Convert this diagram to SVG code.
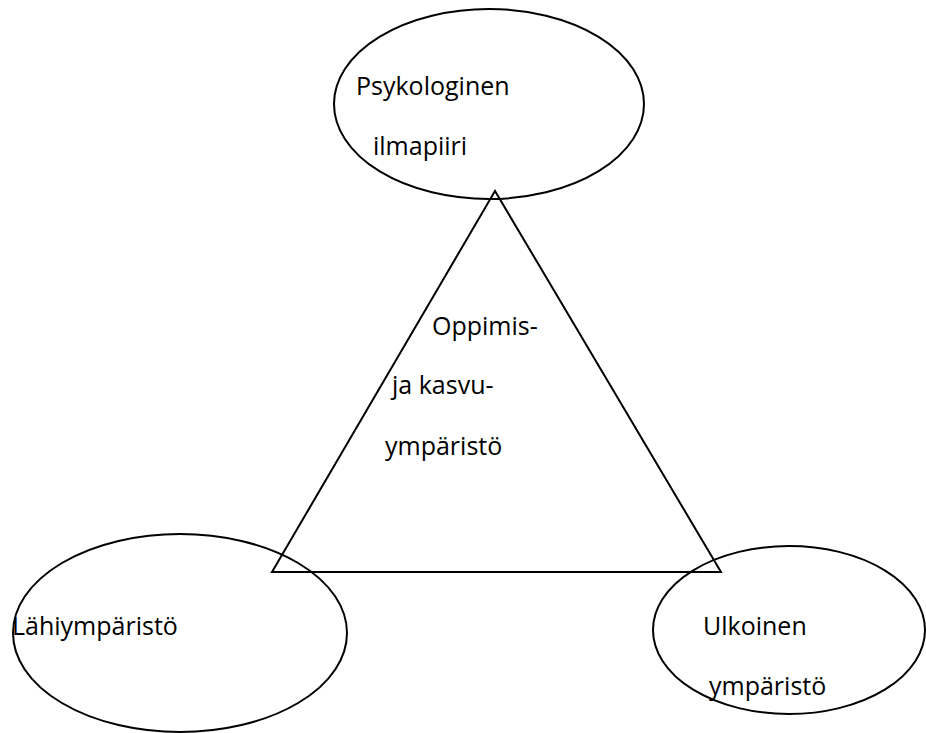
<svg xmlns="http://www.w3.org/2000/svg" width="926" height="733" viewBox="0 0 926 733">
<style>
.shape{fill:none;stroke:#000;stroke-width:2}
.lbl{font-family:"Open Sans","Noto Sans","Liberation Sans",sans-serif;font-size:25px;fill:#000}
</style>
<rect width="926" height="733" fill="#fff"/>
<g id="connectors"></g>
<g id="node-psykologinen">
<ellipse class="shape" cx="489" cy="104" rx="155" ry="95"/>
<text class="lbl" x="356" y="95">Psykologinen</text>
<text class="lbl" x="373" y="155">ilmapiiri</text>
</g>
<g id="node-oppimis">
<polygon class="shape" points="495,191 272,572 721,572"/>
<text class="lbl" x="432" y="335">Oppimis-</text>
<text class="lbl" x="392" y="394">ja kasvu-</text>
<text class="lbl" x="385" y="455">ympäristö</text>
</g>
<g id="node-lahiymparisto">
<ellipse class="shape" cx="180" cy="633" rx="167" ry="99"/>
<text class="lbl" x="12" y="635">Lähiympäristö</text>
</g>
<g id="node-ulkoinen">
<ellipse class="shape" cx="789" cy="630" rx="136" ry="84"/>
<text class="lbl" x="703" y="635">Ulkoinen</text>
<text class="lbl" x="709" y="695">ympäristö</text>
</g>
</svg>
